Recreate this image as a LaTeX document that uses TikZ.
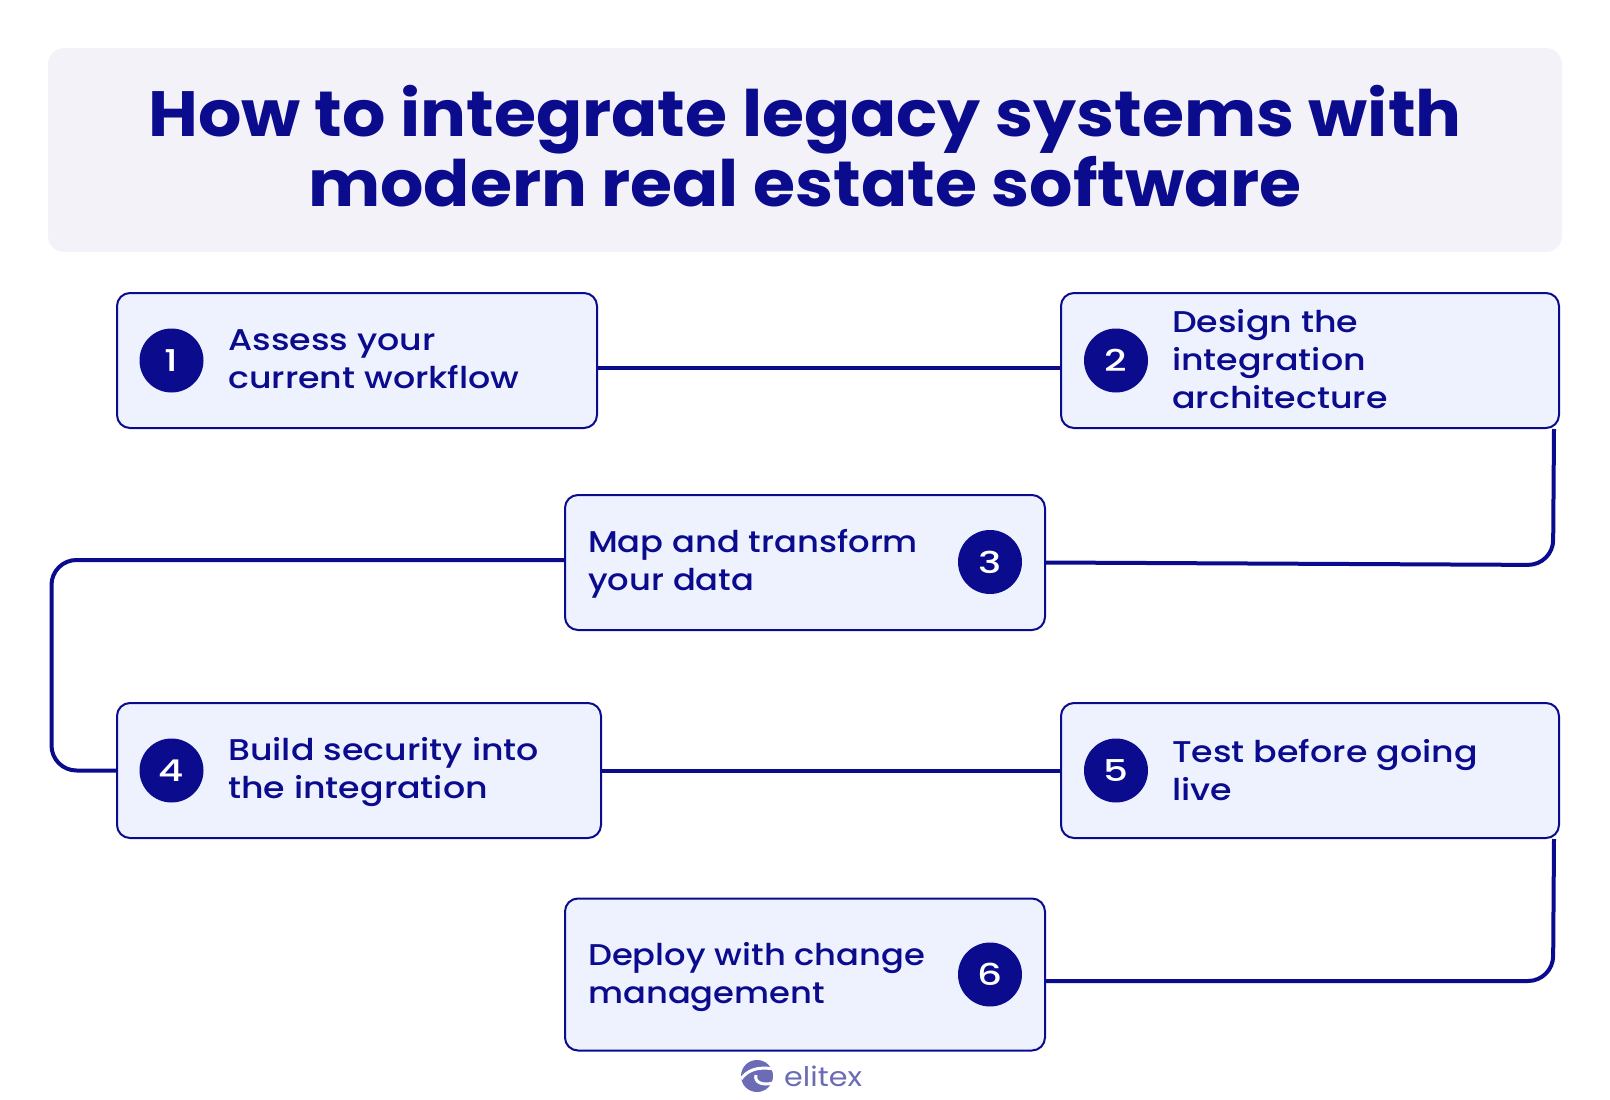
\documentclass[tikz,border=0pt]{standalone}
\usepackage{fontspec}
\usepackage{xcolor}
\setmainfont{Poppins}
\newfontfamily\headfont{Poppins}[FakeStretch=1.065,BoldFont={Poppins Bold}]
\newfontfamily\labelfont{Poppins Medium}[FakeStretch=1.16]
\newfontfamily\labelnarrow{Poppins Medium}[FakeStretch=1.125]
\newfontfamily\numfont{Poppins Medium}[FakeStretch=1.3]
\newfontfamily\brandfont{Poppins}[FakeStretch=1.12]
\definecolor{navy}{HTML}{0B0B8E}
\definecolor{boxfill}{HTML}{EEF2FE}
\definecolor{headfill}{HTML}{F3F2F9}
\definecolor{logoblue}{HTML}{6B6CB5}
\tikzset{
  stepbox/.style={draw=navy, fill=boxfill, line width=2pt, rounded corners=13pt, inner sep=0pt},
  stepnum/.style={circle, fill=navy, text=white, minimum size=64pt, inner sep=0pt, font=\numfont\fontsize{30}{30}\selectfont},
  steptext/.style={anchor=west, align=left, text=navy, inner sep=0pt, font=\labelfont\fontsize{30}{38}\selectfont},
  steptextn/.style={steptext, font=\labelnarrow\fontsize{30}{38}\selectfont},
  link/.style={draw=navy, line width=4pt, rounded corners=25pt},
}
\begin{document}
\begin{tikzpicture}[x=1pt,y=-1pt]
  \useasboundingbox (0,0) rectangle (1610,1100);

  % Header
  \node (head) [fill=headfill, rounded corners=16pt, minimum width=1514pt, minimum height=204pt,
        inner sep=0pt] at (805,150) {};
  \node (title) [text=navy, align=center, inner sep=0pt, font=\headfont\fontsize{64}{70}\selectfont\bfseries]
        at (805,146) {How to integrate legacy systems with\\modern real estate software};

  % Corner points of the links
  \coordinate (c23) at (1553,565);
  \coordinate (c34a) at (51.5,560);
  \coordinate (c34b) at (51.5,770.5);
  \coordinate (c56) at (1553,981);

  % Step boxes
  \node (step1) [stepbox, minimum width=480pt, minimum height=135pt] at (357,360.5) {};
  \node (step2) [stepbox, minimum width=498pt, minimum height=135pt] at (1310,360.5) {};
  \node (step3) [stepbox, minimum width=480pt, minimum height=135pt] at (805,562.5) {};
  \node (step4) [stepbox, minimum width=484pt, minimum height=135pt] at (359,770.5) {};
  \node (step5) [stepbox, minimum width=498pt, minimum height=135pt] at (1310,770.5) {};
  \node (step6) [stepbox, minimum width=480pt, minimum height=152pt] at (805,974.5) {};

  % Links
  \draw[link] ([yshift=-7pt]step1.east) -- ([yshift=-7pt]step2.west);
  \draw[link] ([xshift=-6pt]step2.south east) -- (c23) -- (step3.east);
  \draw[link] ([yshift=2.5pt]step3.west) -- (c34a) -- (c34b) -- (step4.west);
  \draw[link] (step4.east) -- (step5.west);
  \draw[link] ([xshift=-6pt]step5.south east) -- (c56) -- ([yshift=-6.5pt]step6.east);

  % Numbers
  \node (num1) [stepnum] at (171.5,360.5) {1};
  \node (num2) [stepnum] at (1116,360.5) {2};
  \node (num3) [stepnum] at (990,562) {3};
  \node (num4) [stepnum] at (171.5,770.5) {4};
  \node (num5) [stepnum] at (1116,770.5) {5};
  \node (num6) [stepnum] at (990,974.5) {6};

  % Labels
  \node (text1) [steptext] at (228,359) {Assess your\\current workflow};
  \node (text2) [steptext] at (1172,359) {Design the\\integration\\architecture};
  \node (text3) [steptextn] at (588,564) {Map and transform\\your data};
  \node (text4) [steptext] at (228,772) {Build security into\\the integration};
  \node (text5) [steptext] at (1172,770) {Test before going\\live};
  \node (text6) [steptextn] at (588,977) {Deploy with change\\management};

  % Logo
  \node (logo) [circle, fill=logoblue, minimum size=32pt, inner sep=0pt] at (757,1076) {};
  \draw[white, line width=3pt] (741,1079) .. controls (747,1071) and (756,1066) .. (774,1069);
  \draw[white, line width=3pt] (756,1075) .. controls (754,1082) and (762,1086) .. (773,1083);
  \node (brand) [text=logoblue, anchor=west, inner sep=0pt, font=\brandfont\fontsize{27}{27}\selectfont] at (784,1076) {elitex};
\end{tikzpicture}
\end{document}
